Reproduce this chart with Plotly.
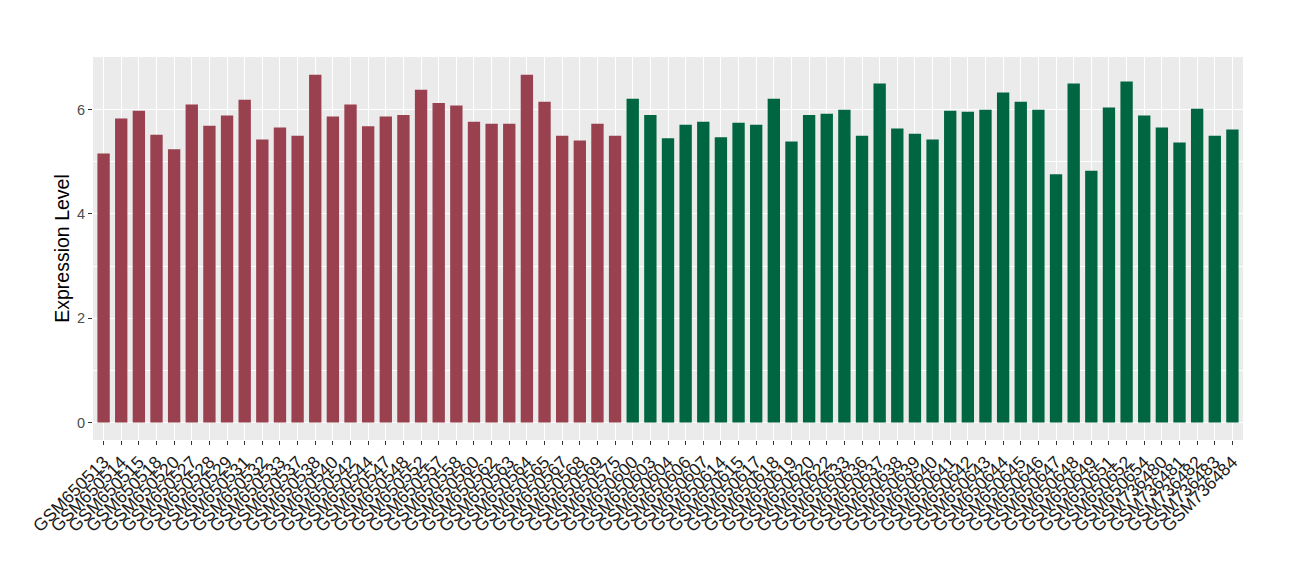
import plotly.graph_objects as go

group_a_samples = ["GSM650513","GSM650514","GSM650515","GSM650518","GSM650520","GSM650527","GSM650528","GSM650529","GSM650531","GSM650532",
                   "GSM650533","GSM650537","GSM650538","GSM650540","GSM650542","GSM650544","GSM650547","GSM650548","GSM650552","GSM650557",
                   "GSM650558","GSM650560","GSM650562","GSM650563","GSM650564","GSM650565","GSM650567","GSM650568","GSM650569","GSM650575"]
group_a_values = [5.16,5.83,5.98,5.52,5.24,6.10,5.69,5.89,6.19,5.43,
                  5.66,5.50,6.67,5.87,6.10,5.68,5.87,5.90,6.38,6.13,
                  6.08,5.77,5.73,5.73,6.67,6.15,5.50,5.41,5.73,5.50]

group_b_samples = ["GSM650600","GSM650603","GSM650604","GSM650606","GSM650607","GSM650614","GSM650615","GSM650617","GSM650618","GSM650619",
                   "GSM650620","GSM650622","GSM650633","GSM650636","GSM650637","GSM650638","GSM650639","GSM650640","GSM650641","GSM650642",
                   "GSM650643","GSM650644","GSM650645","GSM650646","GSM650647","GSM650648","GSM650649","GSM650651","GSM650652","GSM650654",
                   "GSM736480","GSM736481","GSM736482","GSM736483","GSM736484"]
group_b_values = [6.21,5.90,5.45,5.71,5.77,5.47,5.75,5.71,6.21,5.39,
                  5.90,5.92,6.00,5.50,6.50,5.64,5.54,5.43,5.98,5.96,
                  6.00,6.33,6.15,6.00,4.76,6.50,4.83,6.04,6.54,5.89,
                  5.66,5.37,6.02,5.50,5.62]

color_a = "#99414F"
color_b = "#006642"

samples = group_a_samples + group_b_samples
values = group_a_values + group_b_values
colors = [color_a] * len(group_a_samples) + [color_b] * len(group_b_samples)

fig = go.Figure(go.Bar(x=samples, y=values, marker=dict(color=colors, line=dict(width=0)), width=0.7))

fig.update_layout(
    width=1300, height=580,
    margin=dict(l=85, r=65, t=49, b=148),
    paper_bgcolor="white", plot_bgcolor="#EBEBEB",
    font=dict(family="Liberation Sans, Arial, sans-serif", color="black"),
    showlegend=False,
    bargap=0.3,
)
fig.update_xaxes(
    type="category", tickangle=-45, tickfont=dict(size=17.5, color="#1a1a1a"),
    tickmode="array", tickvals=samples, ticktext=samples,
    showgrid=True, gridcolor="white", gridwidth=1.1,
    ticks="outside", ticklen=4, tickcolor="#333333", tickwidth=1,
    showline=False, zeroline=False, range=[-0.6, len(samples) - 0.4],
    automargin=False,
)
fig.update_yaxes(
    range=[-0.334, 7.01], tickvals=[0, 2, 4, 6], tickfont=dict(size=14.5, color="#4d4d4d"),
    showgrid=True, gridcolor="white", gridwidth=1.1, zeroline=False,
    ticks="outside", ticklen=4, tickcolor="#333333", tickwidth=1,
    minor=dict(tickvals=[1, 3, 5, 7], showgrid=True, gridcolor="white", gridwidth=0.5, ticks=""),
    title=dict(text="Expression Level", font=dict(size=19.5, color="black"), standoff=2),
    automargin=False,
)

fig.write_html("out.html")
